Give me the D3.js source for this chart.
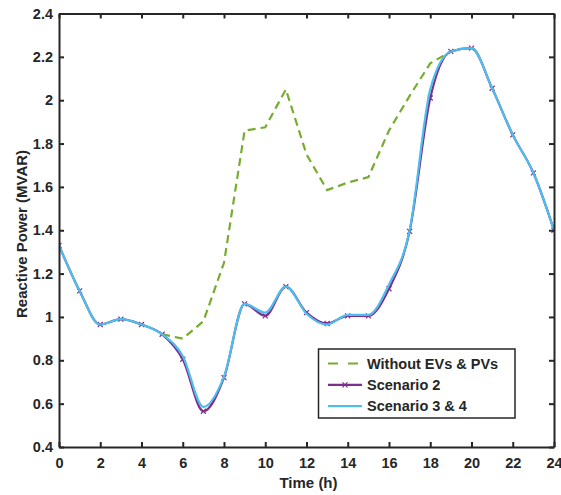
<!DOCTYPE html>
<html>
<head>
<meta charset="utf-8">
<script src="https://cdn.jsdelivr.net/npm/d3@7"></script>
<style>
  body { margin: 0; background: #fff; }
  text { font-family: "Liberation Sans", Arial, sans-serif; font-weight: bold; fill: #262626; }
</style>
</head>
<body>
<script>
// chart data
var hours = [0,1,2,3,4,5,6,7,8,9,10,11,12,13,14,15,16,17,18,19,20,21,22,23,24];
var withoutEV = [1.33,1.12,0.965,0.99,0.965,0.92,0.90,0.98,1.25,1.86,1.875,2.05,1.75,1.585,1.62,1.645,1.86,2.02,2.17,2.225,2.24,2.055,1.84,1.665,1.40];
var scenario2 = [1.33,1.12,0.965,0.99,0.965,0.92,0.805,0.565,0.72,1.06,1.005,1.14,1.02,0.97,1.005,1.005,1.13,1.395,2.01,2.225,2.24,2.055,1.84,1.665,1.40];
var scenario34 = [1.33,1.12,0.965,0.99,0.965,0.92,0.82,0.585,0.725,1.06,1.02,1.14,1.015,0.965,1.01,1.01,1.15,1.40,2.05,2.225,2.24,2.055,1.84,1.665,1.40];
var xTicks = [0,2,4,6,8,10,12,14,16,18,20,22,24];
var yTicks = [0.4,0.6,0.8,1,1.2,1.4,1.6,1.8,2,2.2,2.4];
var legendLabels = ["Without EVs & PVs", "Scenario 2", "Scenario 3 & 4"];

var W = 561, H = 495;
var L = 59, R = 554, T = 13.5, B = 447;
var green = "#77AC30", purple = "#7E2F8E", blue = "#4DBEEE";
var axisCol = "#262626";

var svg = d3.select("body").append("svg").attr("width", W).attr("height", H);

var x = d3.scaleLinear().domain([0, 24]).range([L, R]);
var y = d3.scaleLinear().domain([0.4, 2.4]).range([B, T]);

function makeLine(vals, curve, from, to) {
  return d3.line()
    .defined(function(d, i) { return hours[i] >= from && hours[i] <= to; })
    .x(function(d, i) { return x(hours[i]); })
    .y(function(d) { return y(d); })
    .curve(curve)(vals);
}

function xMark(cx, cy, s) {
  return "M" + (cx - s) + "," + (cy - s) + "L" + (cx + s) + "," + (cy + s) +
    "M" + (cx - s) + "," + (cy + s) + "L" + (cx + s) + "," + (cy - s);
}

svg.append("clipPath").attr("id", "clip").append("rect")
  .attr("x", L).attr("y", T).attr("width", R - L).attr("height", B - T);
var plot = svg.append("g").attr("clip-path", "url(#clip)");

// the dashed series sits under the others where they coincide, so only its
// visible stretch is stroked
plot.append("path").attr("d", makeLine(withoutEV, d3.curveLinear, 5, 19))
  .attr("fill", "none").attr("stroke", green).attr("stroke-width", 2.2)
  .attr("stroke-dasharray", "8,5");
plot.append("path").attr("d", makeLine(scenario2, d3.curveMonotoneX, 0, 24))
  .attr("fill", "none").attr("stroke", purple).attr("stroke-width", 2.2);
plot.selectAll(".mk").data(scenario2).enter().append("path")
  .attr("class", "mk")
  .attr("d", function(d, i) { return xMark(x(hours[i]), y(d), 2.5); })
  .attr("stroke", purple).attr("stroke-width", 1.2);
plot.append("path").attr("d", makeLine(scenario34, d3.curveMonotoneX, 0, 24))
  .attr("fill", "none").attr("stroke", blue).attr("stroke-width", 2.2);

// axes, with ticks pointing inward on all four sides
var gx = svg.append("g").attr("transform", "translate(0," + B + ")")
  .call(d3.axisBottom(x).tickValues(xTicks).tickSizeInner(-5).tickSizeOuter(0).tickPadding(11)
    .tickFormat(d3.format("d")));
var gxt = svg.append("g").attr("transform", "translate(0," + T + ")")
  .call(d3.axisTop(x).tickValues(xTicks).tickSizeInner(-5).tickSizeOuter(0).tickFormat(""));
var gy = svg.append("g").attr("transform", "translate(" + L + ",0)")
  .call(d3.axisLeft(y).tickValues(yTicks).tickSizeInner(-5).tickSizeOuter(0).tickPadding(6)
    .tickFormat(function(d) { return String(+d.toFixed(1)); }));
var gyr = svg.append("g").attr("transform", "translate(" + R + ",0)")
  .call(d3.axisRight(y).tickValues(yTicks).tickSizeInner(-5).tickSizeOuter(0).tickFormat(""));

[gx, gxt, gy, gyr].forEach(function(g) {
  g.select(".domain").attr("stroke", axisCol).attr("stroke-width", 2);
  g.selectAll(".tick line").attr("stroke", axisCol).attr("stroke-width", 2);
  g.selectAll("text").attr("font-size", 14.5).attr("font-family", "Liberation Sans, Arial, sans-serif")
    .attr("font-weight", "bold").attr("fill", axisCol);
});

svg.append("text").attr("x", (L + R) / 2 + 2).attr("y", 488)
  .attr("text-anchor", "middle").attr("font-size", 15).text("Time (h)");
svg.append("text").attr("transform", "translate(27,234) rotate(-90)")
  .attr("text-anchor", "middle").attr("font-size", 15).text("Reactive Power (MVAR)");

// legend
var lg = svg.append("g");
lg.append("rect").attr("x", 318.5).attr("y", 349).attr("width", 196.5).attr("height", 69)
  .attr("fill", "#fff").attr("stroke", axisCol).attr("stroke-width", 1.5);
var cols = [green, purple, blue];
legendLabels.forEach(function(lab, i) {
  var ly = 363.5 + i * 21.3;
  lg.append("line").attr("x1", 328).attr("x2", 362).attr("y1", ly).attr("y2", ly)
    .attr("stroke", cols[i]).attr("stroke-width", 2.2)
    .attr("stroke-dasharray", i === 0 ? "10,10" : null);
  if (i === 1) {
    lg.append("path").attr("d", xMark(345, ly, 2.5))
      .attr("stroke", purple).attr("stroke-width", 1.2);
  }
  lg.append("text").attr("x", 367).attr("y", ly + 5).attr("font-size", 14.5).text(lab);
});
</script>
</body>
</html>
